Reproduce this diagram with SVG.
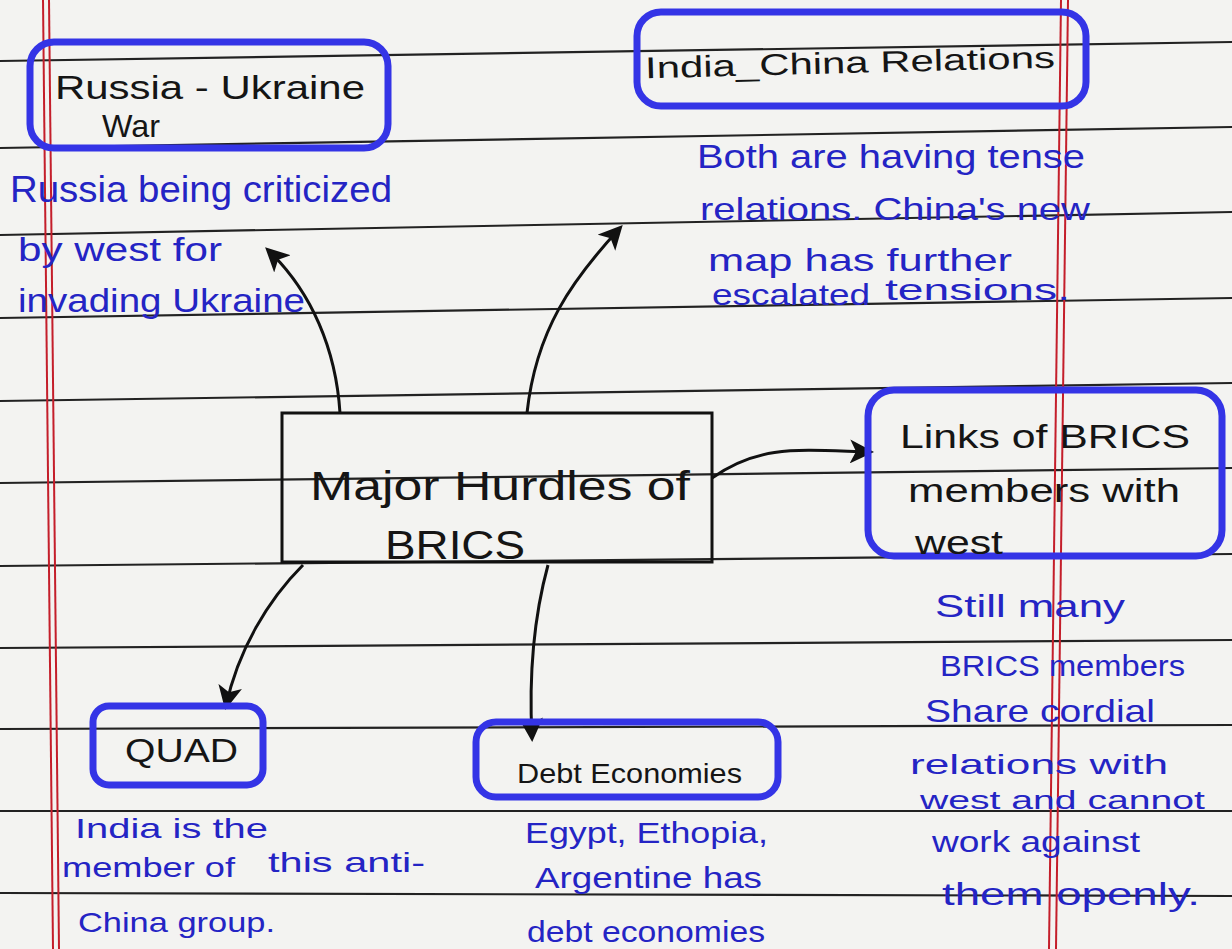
<svg xmlns="http://www.w3.org/2000/svg" width="1232" height="949" viewBox="0 0 1232 949">
<defs>
<marker id="ah" viewBox="0 0 12 12" refX="10" refY="6" markerWidth="24" markerHeight="24" markerUnits="userSpaceOnUse" orient="auto">
<path d="M0,0 L12,6 L0,12 L3,6 z" fill="#111"/>
</marker>
<style>
.rule{stroke:#222;stroke-width:2.2;fill:none}
.margin{stroke:#c41e2a;stroke-width:2;fill:none}
.bbox{fill:none;stroke:#3434e6;stroke-width:7;stroke-linejoin:round}
.cbox{fill:none;stroke:#111;stroke-width:3}
.conn{fill:none;stroke:#111;stroke-width:3;marker-end:url(#ah)}
.t{font-family:"Liberation Sans",Arial,sans-serif;fill:#151515;}
.n{font-family:"Liberation Sans",Arial,sans-serif;fill:#2424c4;}
</style>
</defs>
<rect width="1232" height="949" fill="#f3f3f1"/>
<g id="paper">
<line class="rule" x1="0" y1="61" x2="1232" y2="42"/>
<line class="rule" x1="0" y1="148" x2="1232" y2="127"/>
<line class="rule" x1="0" y1="235" x2="1232" y2="212"/>
<line class="rule" x1="0" y1="318" x2="1232" y2="298"/>
<line class="rule" x1="0" y1="401" x2="1232" y2="383"/>
<line class="rule" x1="0" y1="483" x2="1232" y2="468"/>
<line class="rule" x1="0" y1="566" x2="1232" y2="554"/>
<line class="rule" x1="0" y1="648" x2="1232" y2="640"/>
<line class="rule" x1="0" y1="729" x2="1232" y2="725"/>
<line class="rule" x1="0" y1="811" x2="1232" y2="811"/>
<line class="rule" x1="0" y1="893" x2="1232" y2="896"/>
<line class="margin" x1="43" y1="0" x2="53" y2="949"/>
<line class="margin" x1="49" y1="0" x2="59" y2="949"/>
<line class="margin" x1="1061" y1="0" x2="1049" y2="949"/>
<line class="margin" x1="1068" y1="0" x2="1056" y2="949"/>
</g>
<g id="connectors">
<path class="conn" d="M340 413 C336 350 312 292 268 250"/>
<path class="conn" d="M527 413 C536 330 572 280 620 228"/>
<path class="conn" d="M712 478 C760 444 800 450 870 452"/>
<path class="conn" d="M303 565 C268 600 238 650 226 706"/>
<path class="conn" d="M548 565 C533 620 529 680 532 738"/>
</g>
<g id="node-russia">
<rect class="bbox" x="30" y="42" width="358" height="106" rx="24"/>
<text class="t" x="55" y="99" font-size="34" textLength="310" lengthAdjust="spacingAndGlyphs">Russia - Ukraine</text>
<text class="t" x="102" y="137" font-size="32" textLength="58" lengthAdjust="spacingAndGlyphs">War</text>
<text class="n" x="10" y="202" font-size="36" textLength="382" lengthAdjust="spacingAndGlyphs">Russia being criticized</text>
<text class="n" x="18" y="261" font-size="34" textLength="204" lengthAdjust="spacingAndGlyphs">by west for</text>
<text class="n" x="18" y="312" font-size="34" textLength="287" lengthAdjust="spacingAndGlyphs">invading Ukraine</text>
</g>
<g id="node-india-china">
<rect class="bbox" x="637" y="12" width="449" height="94" rx="24"/>
<text class="t" x="645" y="73" font-size="30" textLength="410" lengthAdjust="spacingAndGlyphs" transform="rotate(-1.5 850 65)">India_China Relations</text>
<text class="n" x="697" y="168" font-size="34" textLength="388" lengthAdjust="spacingAndGlyphs">Both are having tense</text>
<text class="n" x="700" y="220" font-size="32" textLength="390" lengthAdjust="spacingAndGlyphs">relations. China's new</text>
<text class="n" x="708" y="271" font-size="32" textLength="304" lengthAdjust="spacingAndGlyphs">map has further</text>
<text class="n" x="712" y="305" font-size="30" textLength="158" lengthAdjust="spacingAndGlyphs">escalated</text>
<text class="n" x="885" y="300" font-size="30" textLength="185" lengthAdjust="spacingAndGlyphs">tensions.</text>
</g>
<g id="node-center">
<rect class="cbox" x="282" y="413" width="430" height="149"/>
<text class="t" x="310" y="500" font-size="40" textLength="380" lengthAdjust="spacingAndGlyphs">Major Hurdles of</text>
<text class="t" x="385" y="559" font-size="40" textLength="140" lengthAdjust="spacingAndGlyphs">BRICS</text>
</g>
<g id="node-links">
<rect class="bbox" x="868" y="390" width="354" height="166" rx="26"/>
<text class="t" x="900" y="448" font-size="34" textLength="290" lengthAdjust="spacingAndGlyphs">Links of BRICS</text>
<text class="t" x="908" y="502" font-size="34" textLength="272" lengthAdjust="spacingAndGlyphs">members with</text>
<text class="t" x="915" y="554" font-size="34" textLength="88" lengthAdjust="spacingAndGlyphs">west</text>
<text class="n" x="935" y="617" font-size="32" textLength="190" lengthAdjust="spacingAndGlyphs">Still many</text>
<text class="n" x="940" y="676" font-size="30" textLength="245" lengthAdjust="spacingAndGlyphs">BRICS members</text>
<text class="n" x="925" y="722" font-size="32" textLength="230" lengthAdjust="spacingAndGlyphs">Share cordial</text>
<text class="n" x="910" y="774" font-size="28" textLength="258" lengthAdjust="spacingAndGlyphs">relations with</text>
<text class="n" x="920" y="809" font-size="26" textLength="285" lengthAdjust="spacingAndGlyphs">west and cannot</text>
<text class="n" x="932" y="852" font-size="30" textLength="208" lengthAdjust="spacingAndGlyphs">work against</text>
<text class="n" x="942" y="905" font-size="32" textLength="258" lengthAdjust="spacingAndGlyphs">them openly.</text>
</g>
<g id="node-quad">
<rect class="bbox" x="93" y="706" width="170" height="79" rx="16"/>
<text class="t" x="125" y="762" font-size="34" textLength="113" lengthAdjust="spacingAndGlyphs">QUAD</text>
<text class="n" x="75" y="838" font-size="28" textLength="193" lengthAdjust="spacingAndGlyphs">India is the</text>
<text class="n" x="62" y="877" font-size="28" textLength="173" lengthAdjust="spacingAndGlyphs">member of</text>
<text class="n" x="268" y="872" font-size="28" textLength="157" lengthAdjust="spacingAndGlyphs">this anti-</text>
<text class="n" x="78" y="932" font-size="28" textLength="197" lengthAdjust="spacingAndGlyphs">China group.</text>
</g>
<g id="node-debt">
<rect class="bbox" x="476" y="722" width="302" height="75" rx="20"/>
<text class="t" x="517" y="783" font-size="28" textLength="225" lengthAdjust="spacingAndGlyphs">Debt Economies</text>
<text class="n" x="525" y="843" font-size="30" textLength="243" lengthAdjust="spacingAndGlyphs">Egypt, Ethopia,</text>
<text class="n" x="535" y="888" font-size="30" textLength="227" lengthAdjust="spacingAndGlyphs">Argentine has</text>
<text class="n" x="527" y="942" font-size="30" textLength="238" lengthAdjust="spacingAndGlyphs">debt economies</text>
</g>
</svg>
